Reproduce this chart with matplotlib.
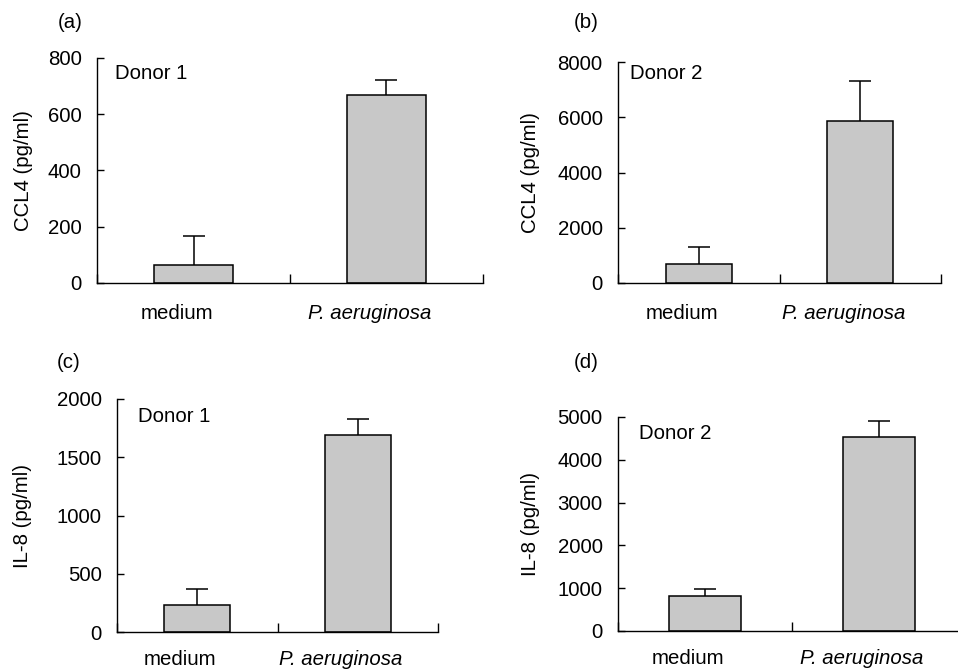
import matplotlib
matplotlib.use("Agg")
import matplotlib.pyplot as plt
import matplotlib.transforms as mtransforms

plt.rcParams['font.family'] = ['Liberation Sans', 'DejaVu Sans']
FS = 14.7

# data
categories = ["medium", "P. aeruginosa"]

ccl4_donor1 = [65, 668]
ccl4_donor1_err = [103, 55]

ccl4_donor2 = [700, 5850]
ccl4_donor2_err = [620, 1450]

il8_donor1 = [236, 1688]
il8_donor1_err = [134, 143]

il8_donor2 = [817, 4526]
il8_donor2_err = [163, 381]

W, H = 958, 670
fig = plt.figure(figsize=(W / 100, H / 100), dpi=100)


def px_axes(left, top, right, bottom):
    # axes box given in pixels of the final image
    return fig.add_axes([left / W, 1 - bottom / H, (right - left) / W, (bottom - top) / H])


panels = [
    # tag, box, means, errs, ylabel, yticks, donor, tag pos, ylabel x, donor pos, xlabel pad
    ("(a)", (97, 58, 483, 283), ccl4_donor1, ccl4_donor1_err, "CCL4 (pg/ml)",
     [0, 200, 400, 600, 800], "Donor 1", (70, 22), 33, (115, 64), 15),
    ("(b)", (618, 62, 941, 283), ccl4_donor2, ccl4_donor2_err, "CCL4 (pg/ml)",
     [0, 2000, 4000, 6000, 8000], "Donor 2", (586, 22), 540, (630, 64), 15),
    ("(c)", (117, 399, 438, 632), il8_donor1, il8_donor1_err, "IL-8 (pg/ml)",
     [0, 500, 1000, 1500, 2000], "Donor 1", (69, 363), 32, (138, 407), 13),
    ("(d)", (618, 417, 966, 631), il8_donor2, il8_donor2_err, "IL-8 (pg/ml)",
     [0, 1000, 2000, 3000, 4000, 5000], "Donor 2", (586, 363), 540, (639, 424), 13),
]

label_shift = mtransforms.ScaledTranslation(-17 / 100, 0, fig.dpi_scale_trans)

for tag, box, means, errs, ylab, yticks, donor, tagpos, ylx, dpos, xpad in panels:
    ax = px_axes(*box)
    x = [0.5, 1.5]
    ax.bar(x, means, width=0.41, color="#c8c8c8", edgecolor="black", linewidth=1.1, zorder=2)
    eb = ax.errorbar(x, means, yerr=[[0, 0], errs], fmt="none", ecolor="black",
                     elinewidth=1.1, capsize=8, capthick=1.1, zorder=3)
    # only the upper cap is visible in the original
    eb[1][0].set_visible(False)

    ax.set_xlim(0, 2)
    ax.set_ylim(0, yticks[-1])
    ax.set_yticks(yticks)
    ax.set_xticks([0, 1, 2])
    ax.set_xticklabels([])
    ax.set_xticks(x, categories, minor=True)
    ax.tick_params(axis="x", which="major", direction="in", length=6.5, width=1)
    ax.tick_params(axis="x", which="minor", length=0, pad=xpad, labelsize=FS)
    ax.tick_params(axis="y", direction="in", length=5, width=1, pad=11, labelsize=FS)
    for lab in ax.xaxis.get_minorticklabels():
        lab.set_transform(lab.get_transform() + label_shift)
    ax.xaxis.get_minorticklabels()[1].set_fontstyle("italic")

    ax.spines["top"].set_visible(False)
    ax.spines["right"].set_visible(False)
    ax.spines["left"].set_linewidth(1)
    ax.spines["bottom"].set_linewidth(1)

    ax.set_ylabel(ylab, fontsize=FS)
    ax.yaxis.set_label_coords(ylx / W, 0.5,
                              transform=mtransforms.blended_transform_factory(fig.transFigure, ax.transAxes))

    fig.text(tagpos[0] / W, 1 - tagpos[1] / H, tag, ha="center", va="center", fontsize=FS)
    fig.text(dpos[0] / W, 1 - dpos[1] / H, donor, ha="left", va="top", fontsize=FS)

fig.savefig("out.png", dpi=100, facecolor="white")
